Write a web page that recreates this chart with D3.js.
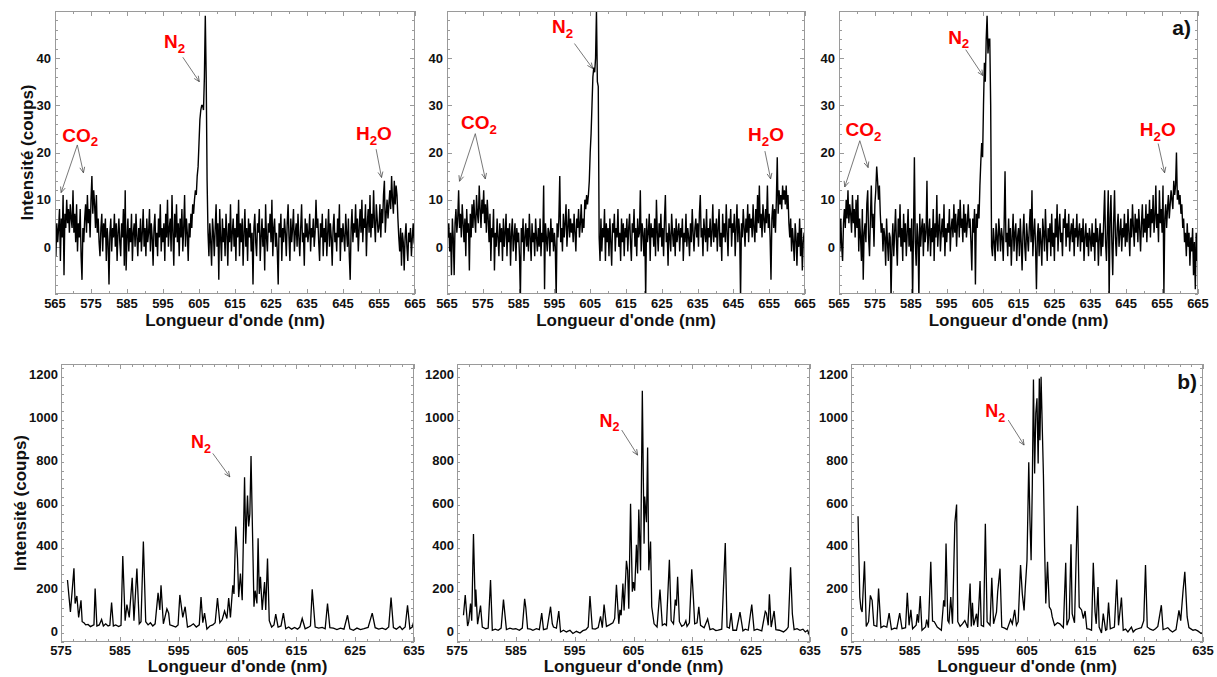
<!DOCTYPE html>
<html><head><meta charset="utf-8">
<script src="https://cdn.jsdelivr.net/npm/d3@7"></script>
<style>
body{margin:0;background:#fff;}
svg{display:block;font-family:"Liberation Sans",Arial,sans-serif;}
</style>
</head><body>
<svg id="c" width="1217" height="677"></svg>
<script>
// ---------- tick labels ----------
const topTicksX = [565,575,585,595,605,615,625,635,645,655,665];
const topTicksY = [0,10,20,30,40];
const botTicksX = [575,585,595,605,615,625,635];
const botTicksY = [0,200,400,600,800,1000,1200];
const topDomainX = [565,665], topDomainY = [-10,50];
const botDomainX = [575,635], botDomainY = [-50,1250];

// ---------- row a) : intensities, one value every 0.25 nm from 565 to 665 nm ----------
const specA1 = [
 3,-2,5,1,4,8,-3,6,2,11,-6,7,4,10,5,8,3,9,6,4,
 12,3,7,1,9,-1,5,2,8,-2,-7,4,1,6,9,3,11,5,8,2,
 10,15,7,12,9,4,11,3,6,1,-2,4,7,-1,5,2,6,-3,4,1,
 -8,3,6,-1,4,2,7,0,5,-3,3,6,1,-2,5,2,8,-4,12,-5,
 2,6,-1,4,1,7,-3,3,5,0,7,2,-2,4,1,6,-1,3,8,0,
 4,-2,6,1,3,8,-1,5,2,-4,4,7,0,3,-2,6,2,9,-1,4,
 1,5,-3,7,2,10,0,4,6,-1,11,3,-4,7,2,9,1,5,-2,6,
 2,8,-1,4,11,0,6,3,-3,5,2,7,4,9,7,10,12,11,15,17,
 22,27,29,30,30,29,36,49,36,14,3,-2,5,1,-4,6,3,-2,4,9,
 0,5,-7,8,2,-3,6,1,4,-2,7,3,-4,5,1,9,-1,3,6,0,
 4,-3,7,2,10,-2,5,1,6,-4,3,8,0,4,-3,6,2,5,-1,3,
 -8,4,7,1,-2,5,3,8,-3,2,6,0,4,-5,9,2,-1,5,3,7,
 1,10,-2,4,6,0,3,-1,-8,5,2,7,-3,4,1,6,3,-2,5,9,
 2,-3,6,1,4,8,-1,3,5,0,7,2,-2,4,9,1,3,-4,6,2,
 5,1,3,7,-1,4,2,6,0,3,10,4,6,1,-3,5,2,7,-2,4,
 1,6,-2,3,8,0,5,2,-4,4,7,1,3,-1,6,2,9,-3,4,1,
 5,2,-1,7,3,0,6,-2,-7,4,8,1,5,3,9,2,6,-1,4,8,
 3,10,1,6,4,9,-2,5,8,3,11,2,7,4,12,5,1,9,6,3,
 4,9,2,8,5,11,14,3,7,10,6,9,12,8,15,10,7,14,9,13,
 11,6,2,-1,4,-4,3,1,-5,2,5,0,-3,3,1,4,-2,2,5,1,
 0];
const specA2 = [
 4,2,5,-1,3,-6,6,2,-6,5,8,3,6,12,4,7,2,9,5,1,
 6,-2,8,3,5,-5,7,2,9,4,10,6,3,11,7,5,13,8,4,10,
 7,12,5,9,3,10,6,1,7,-3,4,2,8,-5,3,0,6,2,-2,5,
 1,4,-3,6,0,3,7,-2,4,1,5,-4,3,6,-1,2,5,-3,4,1,
 3,-2,-11,4,1,6,-3,2,5,0,4,-1,7,2,-3,5,1,3,-2,6,
 2,-1,4,0,6,-2,3,1,13,-9,5,2,-1,4,3,-2,6,1,4,-1,
 3,0,-11,5,2,6,15,1,4,-1,7,2,5,9,0,4,8,2,6,3,
 5,1,7,3,-1,6,4,8,2,5,9,3,6,4,10,8,11,9,11,14,
 20,24,30,36,38,37,40,50,35,34,2,-3,6,-1,4,2,8,-3,5,1,
 4,-2,6,1,-4,5,3,7,-1,4,2,8,0,3,-3,6,1,5,-2,4,
 2,6,-1,4,7,1,-3,5,3,8,0,4,-2,6,2,3,12,-1,5,3,
 -2,4,-11,6,1,3,7,-3,5,2,4,0,6,-2,10,3,-1,5,2,7,
 0,4,-2,6,11,1,3,-4,5,2,-1,7,3,0,4,-2,6,1,3,5,
 -1,4,2,6,-3,3,1,7,0,4,2,-2,5,1,8,3,-1,4,6,2,
 5,0,7,11,2,4,-2,6,3,1,8,-1,4,2,6,0,3,9,1,5,
 2,6,-1,4,8,0,3,-3,7,2,5,1,9,3,-2,6,4,8,0,5,
 3,7,-2,4,9,1,6,3,-11,5,2,8,4,0,6,3,9,1,7,4,
 6,2,9,4,1,8,3,11,5,13,4,7,2,9,6,3,8,5,13,4,
 7,2,-7,6,9,4,8,3,10,19,7,12,9,11,8,13,10,12,9,13,
 8,11,5,2,6,-1,4,1,-3,5,2,-4,3,0,6,-2,4,-5,1,3,
 0];
const specA3 = [
 2,-1,6,0,-3,5,8,4,10,6,12,5,9,7,3,11,5,8,2,10,
 4,11,-1,6,2,-3,8,-7,3,5,1,9,12,2,-2,6,13,4,7,0,
 9,12,17,14,10,13,7,3,5,-1,4,2,-4,6,1,-3,3,2,-11,0,
 5,-2,3,8,1,-4,6,2,9,0,4,-3,7,1,5,-2,3,8,0,4,
 -1,6,-11,3,19,1,-4,5,2,-11,7,0,4,6,-2,5,1,3,14,-1,
 3,6,-2,4,1,8,-3,5,2,11,0,4,7,-1,3,6,2,9,-2,4,
 1,5,3,8,-1,4,6,2,9,3,7,0,5,8,2,10,4,6,1,9,
 3,7,2,5,9,4,6,1,-5,6,3,8,-8,7,4,9,6,13,18,22,
 19,30,39,35,44,49,41,44,44,30,0,-2,4,1,-3,5,2,-1,6,3,
 -1,4,2,-3,5,16,1,3,-2,6,0,4,-4,2,7,-1,3,5,-3,2,
 4,-2,6,1,-5,3,7,0,-3,5,2,-1,4,8,1,12,-2,3,6,0,
 -9,2,5,-2,4,1,-4,6,3,-1,8,2,-3,4,1,5,-2,7,0,3,
 -3,6,2,9,-1,4,7,1,3,-2,6,4,8,0,5,2,7,-1,3,5,
 1,6,-2,4,2,7,0,3,5,-1,4,1,6,-3,2,5,0,3,-2,4,
 2,-1,5,0,3,-3,6,1,4,-4,2,5,-2,3,0,6,12,1,-3,4,
 12,-11,6,11,1,-6,5,12,2,-2,4,7,0,3,6,-1,4,2,7,0,
 5,1,8,3,-2,6,2,9,4,0,7,3,6,1,8,4,-1,5,9,2,
 6,3,9,1,7,4,10,2,8,5,11,3,6,13,4,7,1,12,5,8,
 3,13,-10,6,9,4,8,11,6,9,12,10,8,14,11,13,20,10,12,9,
 11,7,9,4,6,1,3,-2,5,0,3,-4,2,-1,4,-6,1,-9,3,-3,
 0];

// ---------- row b) : [wavelength nm, intensity] ----------
const specB1 = [[576.1,240],[576.4,150],[576.6,90],[576.9,190],[577.2,295],[577.4,130],[577.7,165],[578.0,65],[578.4,145],[578.6,45],[578.9,40],[579.2,30],[579.6,32],[580.0,22],[580.4,28],[580.6,30],[580.8,200],[581.1,25],[581.5,30],[581.9,55],[582.2,25],[582.6,35],[583.0,25],[583.3,28],[583.6,135],[583.9,25],[584.3,30],[584.8,22],[585.2,28],[585.5,352],[585.9,50],[586.2,125],[586.6,65],[587.1,250],[587.4,50],[587.9,293],[588.3,35],[588.6,45],[589.0,420],[589.4,45],[589.8,30],[590.2,40],[590.6,25],[591.0,35],[591.5,180],[591.8,100],[592.0,215],[592.4,35],[593.0,105],[593.3,85],[593.5,30],[594.0,25],[594.5,20],[594.9,30],[595.2,170],[595.7,65],[596.1,115],[596.5,20],[597.0,25],[597.5,35],[598.0,20],[598.5,30],[598.8,160],[599.1,40],[599.4,85],[599.8,10],[600.3,25],[600.8,30],[601.2,40],[601.6,155],[602.0,40],[602.4,55],[602.8,95],[603.2,60],[603.5,155],[603.8,65],[604.2,215],[604.4,175],[604.7,490],[605.0,340],[605.2,160],[605.5,270],[605.8,145],[606.2,720],[606.4,410],[606.7,635],[606.9,490],[607.1,550],[607.3,820],[607.6,395],[607.8,115],[608.0,190],[608.3,130],[608.5,435],[608.7,175],[608.9,255],[609.2,100],[609.6,230],[609.8,100],[610.1,340],[610.4,50],[610.8,20],[611.2,30],[611.5,80],[611.9,20],[612.4,25],[612.8,85],[613.2,12],[613.7,20],[614.2,10],[614.7,18],[615.2,10],[615.6,20],[616.0,60],[616.5,12],[617.0,18],[617.4,25],[617.7,197],[618.2,20],[618.8,15],[619.4,18],[619.9,12],[620.3,130],[620.7,17],[621.3,15],[621.9,8],[622.5,15],[623.1,10],[623.7,75],[624.1,12],[624.7,5],[625.3,15],[625.9,8],[626.5,12],[627.2,18],[627.9,85],[628.4,17],[629.0,10],[629.6,15],[630.2,8],[630.7,20],[631.1,158],[631.5,17],[632.0,10],[632.6,23],[633.0,8],[633.5,20],[633.9,122],[634.3,12],[634.7,20],[635.0,50]];
const specB2 = [[576.1,75],[576.4,170],[576.8,25],[577.0,45],[577.3,130],[577.5,50],[577.8,455],[578.1,115],[578.2,195],[578.5,33],[579.0,120],[579.3,20],[579.9,12],[580.3,15],[580.7,240],[581.0,5],[581.5,10],[582.0,5],[582.5,15],[582.9,148],[583.4,8],[584.0,15],[584.5,10],[585.0,12],[585.6,5],[586.1,15],[586.5,152],[586.7,110],[587.0,12],[587.5,10],[587.9,5],[588.5,12],[589.0,8],[589.4,85],[589.7,8],[590.3,12],[590.9,115],[591.2,35],[591.4,20],[591.9,15],[592.3,95],[592.6,-3],[593.1,5],[593.6,-3],[594.2,5],[594.7,-10],[595.3,0],[595.9,-8],[596.4,3],[596.9,8],[597.3,20],[597.6,165],[598.0,12],[598.5,10],[599.0,17],[599.4,70],[599.7,17],[600.0,125],[600.4,23],[600.9,30],[601.5,40],[601.8,60],[602.1,218],[602.5,35],[602.7,100],[602.9,75],[603.2,223],[603.4,98],[603.8,330],[604.0,285],[604.2,105],[604.5,597],[604.8,185],[605.0,230],[605.2,190],[605.5,405],[605.7,270],[605.9,570],[606.2,285],[606.5,1125],[606.8,410],[606.9,630],[607.2,510],[607.4,860],[607.6,285],[607.9,420],[608.1,115],[608.5,35],[609.0,20],[609.5,195],[609.9,28],[610.3,35],[610.6,28],[611.1,335],[611.4,50],[611.8,35],[612.1,148],[612.3,120],[612.5,255],[612.8,45],[613.2,23],[613.6,30],[613.9,50],[614.1,23],[614.5,40],[614.9,290],[615.2,145],[615.4,35],[615.8,40],[616.1,115],[616.4,28],[617.0,17],[617.6,58],[618.0,8],[618.5,12],[619.0,3],[619.4,5],[620.0,10],[620.6,413],[620.9,20],[621.3,15],[621.6,85],[621.9,5],[622.5,5],[623.1,90],[623.6,2],[624.0,10],[624.5,5],[625.1,125],[625.5,5],[626.0,10],[626.8,2],[627.4,93],[627.6,85],[627.9,28],[628.1,173],[628.4,20],[628.9,95],[629.2,8],[629.8,5],[630.5,-3],[631.0,8],[631.3,20],[631.7,300],[632.0,82],[632.3,8],[632.8,12],[633.3,5],[633.8,10],[634.2,-3],[634.6,5],[634.9,-18]];
const specB3 = [[576.2,538],[576.5,160],[576.7,105],[576.9,90],[577.3,328],[577.6,23],[578.0,45],[578.3,168],[578.6,145],[578.9,28],[579.4,23],[579.7,200],[580.1,17],[580.6,25],[581.1,20],[581.5,85],[581.9,8],[582.4,15],[582.8,12],[583.3,85],[583.7,12],[584.3,17],[584.6,180],[584.9,28],[585.2,100],[585.5,12],[586.1,28],[586.3,80],[586.5,40],[586.8,165],[587.1,5],[587.7,20],[587.9,55],[588.2,17],[588.6,325],[588.9,48],[589.2,45],[589.7,20],[590.4,5],[590.8,145],[591.0,115],[591.2,410],[591.5,50],[591.7,40],[592.0,160],[592.3,35],[592.7,507],[593.0,593],[593.2,45],[593.6,23],[594.0,35],[594.4,50],[594.9,17],[595.3,223],[595.5,23],[595.7,133],[595.9,28],[596.4,82],[596.6,20],[597.0,235],[597.2,28],[597.6,23],[597.9,503],[598.2,45],[598.7,28],[599.0,250],[599.3,35],[599.8,90],[600.0,184],[600.4,293],[600.7,20],[601.2,15],[601.6,8],[602.2,55],[602.5,35],[602.9,100],[603.2,28],[603.5,45],[603.9,310],[604.2,175],[604.5,98],[604.7,200],[605.0,332],[605.3,790],[605.5,520],[605.7,332],[605.9,675],[606.1,1178],[606.3,738],[606.5,1020],[606.7,1090],[606.9,785],[607.1,1182],[607.2,894],[607.4,1190],[607.6,956],[607.8,730],[608.0,395],[608.2,130],[608.5,325],[608.8,115],[609.1,100],[609.3,67],[609.7,28],[610.2,40],[610.6,35],[611.2,17],[611.6,320],[611.8,28],[612.2,60],[612.5,407],[612.7,83],[613.1,40],[613.6,587],[613.9,114],[614.3,100],[614.6,60],[614.9,95],[615.2,12],[615.6,10],[616.0,5],[616.3,320],[616.6,90],[616.8,35],[617.1,207],[617.3,20],[617.7,-8],[618.0,83],[618.4,5],[618.6,8],[618.9,134],[619.2,12],[619.9,20],[620.3,242],[620.6,28],[621.1,158],[621.4,5],[621.8,10],[622.2,-3],[622.8,20],[623.1,-3],[623.5,8],[623.9,12],[624.5,17],[624.9,50],[625.2,310],[625.5,20],[626.0,10],[626.5,5],[626.9,12],[627.3,23],[627.9,122],[628.2,8],[628.6,12],[629.0,17],[629.4,5],[629.8,-3],[630.4,8],[630.9,98],[631.2,50],[631.6,190],[631.9,278],[632.3,67],[632.6,17],[633.0,10],[633.3,5],[633.7,8],[634.1,2],[634.7,-10],[635.0,-3]];

// ---------- annotations (data units) ----------
const annotA = [
 { N2:[595.3,42.1], N2arrow:[[600.5,40.2],[605.1,35.0]],
   CO2:[567.0,22.3], CO2arrows:[[571.2,21.6],[566.7,11.5],[572.9,15.7]],
   H2O:[648.6,22.6], H2Oarrow:[[654.2,20.7],[655.7,14.7]] },
 { N2:[594.3,45.3], N2arrow:[[600.6,43.1],[605.7,37.8]],
   CO2:[568.9,24.9], CO2arrows:[[572.9,24.0],[568.5,13.9],[575.7,14.4]],
   H2O:[649.1,22.4], H2Oarrow:[[653.8,20.3],[655.4,14.4]] },
 { N2:[595.4,43.1], N2arrow:[[600.3,41.8],[605.1,36.3]],
   CO2:[566.8,23.5], CO2arrows:[[570.8,22.5],[566.6,12.7],[573.1,16.8]],
   H2O:[648.8,23.5], H2Oarrow:[[653.9,21.9],[655.7,15.7]] }
];
const annotB = [
 { N2:[597.1,855], N2arrow:[[600.8,832],[603.7,722]] },
 { N2:[599.2,956], N2arrow:[[603.0,941],[605.7,824]] },
 { N2:[597.9,1000], N2arrow:[[601.8,988],[604.5,871]] }
];

// ---------- layout ----------
const topPanels = [{l:55,r:415,t:11,b:294},{l:447,r:805,t:11,b:294},{l:839,r:1198,t:11,b:294}];
const botPanels = [{l:61,r:414,t:364,b:642},{l:457,r:810,t:364,b:642},{l:851,r:1203,t:364,b:642}];

const svg = d3.select("#c");
const defs = svg.append("defs");
defs.append("marker").attr("id","arr").attr("viewBox","0 0 10 10")
  .attr("refX",9).attr("refY",5).attr("markerWidth",7).attr("markerHeight",7)
  .attr("markerUnits","userSpaceOnUse").attr("orient","auto")
  .append("path").attr("d","M1,1.5 L9,5 L1,8.5").attr("fill","none")
  .attr("stroke","#444").attr("stroke-width",1);

const frameCol = "#9a9a9a";
let clipId = 0;

function drawPanel(p, opt){
  const g = svg.append("g");
  const x = d3.scaleLinear().domain(opt.dx).range([p.l,p.r]);
  const y = d3.scaleLinear().domain(opt.dy).range([p.b,p.t]);
  // ticks on all four sides
  const tk = g.append("g").attr("stroke",frameCol).attr("stroke-width",1);
  const xMinor = d3.range(opt.dx[0], opt.dx[1]+1e-6, opt.xMinor);
  xMinor.forEach(v=>{
    const X = Math.round(x(v))+0.5;
    const len = opt.xTicks.includes(+v.toFixed(3)) ? 5 : 3;
    tk.append("line").attr("x1",X).attr("x2",X).attr("y1",p.b).attr("y2",p.b-len);
    tk.append("line").attr("x1",X).attr("x2",X).attr("y1",p.t).attr("y2",p.t+len);
  });
  const yMinor = d3.range(opt.dy[0], opt.dy[1]+1e-6, opt.yMinor);
  yMinor.forEach(v=>{
    const Y = Math.round(y(v))+0.5;
    const len = opt.yTicks.includes(v) ? 5 : 3;
    tk.append("line").attr("y1",Y).attr("y2",Y).attr("x1",p.l).attr("x2",p.l+len);
    tk.append("line").attr("y1",Y).attr("y2",Y).attr("x1",p.r).attr("x2",p.r-len);
  });
  // clip + line
  const cid = "clip"+(clipId++);
  defs.append("clipPath").attr("id",cid).append("rect")
    .attr("x",p.l).attr("y",p.t).attr("width",p.r-p.l).attr("height",p.b-p.t);
  const line = d3.line().x(d=>x(d[0])).y(d=>y(d[1]));
  g.append("path").datum(opt.data).attr("clip-path",`url(#${cid})`)
    .attr("d",line).attr("fill","none").attr("stroke","#000")
    .attr("stroke-width",opt.lw).attr("stroke-linejoin","miter");
  // frame
  g.append("rect").attr("x",p.l+0.5).attr("y",p.t+0.5).attr("width",p.r-p.l-1).attr("height",p.b-p.t-1)
    .attr("fill","none").attr("stroke",frameCol).attr("stroke-width",1);
  // tick labels
  g.append("g").selectAll("text").data(opt.xTicks).join("text")
    .attr("x",d=>x(d)).attr("y",p.b+opt.xLabDy).attr("text-anchor","middle")
    .attr("font-size",13).attr("font-weight","bold").attr("fill","#111").text(d=>d);
  g.append("g").selectAll("text").data(opt.yTicks).join("text")
    .attr("x",p.l-opt.yLabDx).attr("y",d=>y(d)).attr("dy","0.36em").attr("text-anchor","end")
    .attr("font-size",13).attr("font-weight","bold").attr("fill","#111").text(d=>d);
  // axis titles
  g.append("text").attr("x",(p.l+p.r)/2).attr("y",p.b+opt.titleDy).attr("text-anchor","middle")
    .attr("font-size",17).attr("font-weight","bold").attr("fill","#111").text("Longueur d'onde (nm)");
  if(opt.ytitle){
    g.append("text").attr("transform",`translate(${opt.ytitleX},${(p.t+p.b)/2}) rotate(-90)`)
      .attr("text-anchor","middle").attr("dy","0.35em")
      .attr("font-size",17).attr("font-weight","bold").attr("fill","#111").text("Intensité (coups)");
  }
  // annotations
  const a = opt.annot, fs = opt.annFs;
  function chem(pos, parts){
    const t = g.append("text").attr("x",x(pos[0])).attr("y",y(pos[1]))
      .attr("font-size",fs).attr("font-weight","bold").attr("fill","#ff0000");
    let down = false;
    parts.forEach(pt=>{
      const sub = pt.sub;
      const ts = t.append("tspan").text(pt.t).attr("font-size", sub ? fs*0.7 : fs);
      if(sub && !down){ ts.attr("dy", fs*0.25); down = true; }
      else if(!sub && down){ ts.attr("dy", -fs*0.25); down = false; }
    });
  }
  function arrow(from,to){
    g.append("line").attr("x1",x(from[0])).attr("y1",y(from[1])).attr("x2",x(to[0])).attr("y2",y(to[1]))
      .attr("stroke","#555").attr("stroke-width",0.8).attr("marker-end","url(#arr)");
  }
  chem(a.N2,[{t:"N"},{t:"2",sub:true}]);
  arrow(a.N2arrow[0],a.N2arrow[1]);
  if(a.CO2){
    chem(a.CO2,[{t:"CO"},{t:"2",sub:true}]);
    arrow(a.CO2arrows[0],a.CO2arrows[1]);
    arrow(a.CO2arrows[0],a.CO2arrows[2]);
    chem(a.H2O,[{t:"H"},{t:"2",sub:true},{t:"O"}]);
    arrow(a.H2Oarrow[0],a.H2Oarrow[1]);
  }
  if(opt.tag){
    g.append("text").attr("x",p.r-opt.tagDx).attr("y",p.t+opt.tagDy).attr("text-anchor","end")
      .attr("font-size",21).attr("font-weight","bold").attr("fill","#111").text(opt.tag);
  }
}

const specsA = [specA1,specA2,specA3];
specsA.forEach((s,i)=>{
  const step = (topDomainX[1]-topDomainX[0])/(s.length-1);
  const data = s.map((v,k)=>[topDomainX[0]+k*step, v]);
  drawPanel(topPanels[i],{dx:topDomainX,dy:topDomainY,xTicks:topTicksX,yTicks:topTicksY,
    xMinor:5,yMinor:2,data,lw:1.4,xLabDy:14,yLabDx:4,titleDy:32,ytitle:i===0,ytitleX:27,
    annot:annotA[i],annFs:19,tag:i===2?"a)":null,tagDx:7,tagDy:24});
});
const specsB = [specB1,specB2,specB3];
specsB.forEach((s,i)=>{
  drawPanel(botPanels[i],{dx:botDomainX,dy:botDomainY,xTicks:botTicksX,yTicks:botTicksY,
    xMinor:2,yMinor:40,data:s,lw:1.3,xLabDy:13,yLabDx:3,titleDy:30,ytitle:i===0,ytitleX:20,
    annot:annotB[i],annFs:18,tag:i===2?"b)":null,tagDx:6,tagDy:25});
});
</script>
</body></html>
